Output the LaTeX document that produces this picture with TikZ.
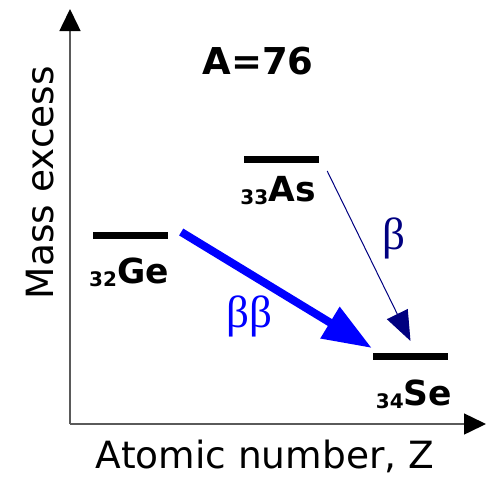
\documentclass[tikz,border=0pt]{standalone}
\usepackage{fontspec}
\setmainfont{DejaVu Sans}
\newfontfamily\greekfont{Liberation Serif}
\usetikzlibrary{arrows.meta}
\definecolor{betablue}{RGB}{0,0,255}
\definecolor{betanavy}{RGB}{0,0,128}
\definecolor{axisgray}{RGB}{90,90,90}
\newcommand{\zsub}[1]{\raisebox{-3pt}{\fontsize{20}{20}\selectfont #1}}

\begin{document}
\begin{tikzpicture}[x=1pt, y=-1pt,
  level/.style={fill=black, inner sep=0pt, minimum width=75pt, minimum height=7pt},
  nuclide/.style={anchor=base, inner sep=0pt, font=\fontsize{34.5}{34.5}\selectfont\bfseries},
  axis/.style={axisgray, line width=1.5pt, -{Triangle[length=22pt, width=21pt, color=black]}},
  greek/.style={anchor=base, inner sep=0pt, font=\greekfont\fontsize{45}{45}\selectfont}]
  \useasboundingbox (0,0) rectangle (495,477);

  % axes
  \coordinate (O) at (70,424);
  \coordinate (Ytop) at (70,9);
  \coordinate (Xend) at (486,424);
  \draw[axis] (O) -- (Ytop);
  \draw[axis] (O) -- (Xend);

  % levels
  \node[level] (Ge) at (130.5,235) {};
  \node[level] (As) at (281.5,159) {};
  \node[level] (Se) at (410.5,356) {};

  \node[nuclide] (GeLab) at (129,283) {\zsub{32}Ge};
  \node[nuclide] (AsLab) at (278,201) {\zsub{33}As};
  \node[nuclide] (SeLab) at (414,405) {\zsub{34}Se};

  % decays
  \coordinate (BBs) at ([shift={(13,-3)}]Ge.east);
  \coordinate (BBe) at ([shift={(-1,-8)}]Se.west);
  \coordinate (Bs) at ([shift={(8,12)}]As.east);
  \coordinate (Be) at ([shift={(0,-15)}]Se.center);
  \draw[betablue, line width=8pt, -{Triangle[length=49pt, width=35pt]}] (BBs) -- (BBe);
  \draw[betanavy, line width=1pt, -{Triangle[length=30pt, width=23pt]}] (Bs) -- (Be);

  \node[greek, betablue] (BBlab) at (249.5,327) {ββ};
  \node[greek, betanavy] (Blab) at (393.5,249) {β};

  \node[font=\fontsize{37}{37}\selectfont\bfseries] (Title) at (258,61) {A=76};
  \node[anchor=base, inner sep=0pt, font=\fontsize{37.5}{37.5}\selectfont] (Zlab) at (265,468) {Atomic number, Z};
  \node[anchor=base, inner sep=0pt, rotate=90, font=\fontsize{37.5}{37.5}\selectfont] (Mlab) at (53,182.5) {Mass excess};
\end{tikzpicture}
\end{document}
